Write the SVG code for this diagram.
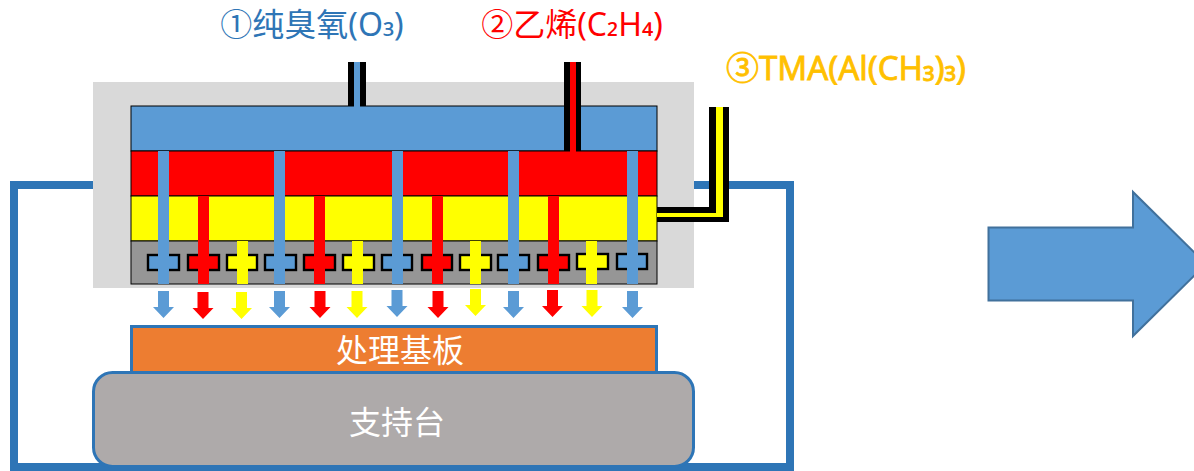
<svg xmlns="http://www.w3.org/2000/svg" width="1194" height="471" viewBox="0 0 1194 471">
<style>
text{font-family:"Noto Sans","Noto Sans CJK SC","Noto Sans CJK JP",sans-serif;font-size:32px;text-anchor:middle}
.layer{stroke:#000;stroke-width:1}
.b{fill:#5b9bd5}.r{fill:#f00}.y{fill:#ff0}
.cell{fill:none;stroke:#000;stroke-width:2.4}
.white{fill:#fff}
</style>
<defs>
<path id="arr" d="M-5.500,0H5.500V16H10.500L0,27L-10.500,16H-5.500Z"/>
</defs>
<rect width="1194" height="471" fill="#fff"/>
<g id="chamber"><rect x="14" y="185" width="776" height="282" fill="none" stroke="#2e75b6" stroke-width="8"/></g>
<g id="head">
<rect x="93" y="82" width="601" height="206" fill="#d9d9d9"/>
<rect class="layer b" x="131" y="106" width="526" height="45"/>
<rect class="layer r" x="131" y="151" width="526" height="45"/>
<rect class="layer y" x="131" y="196" width="526" height="45"/>
<rect class="layer" fill="#969696" x="131" y="241" width="526" height="43"/>
</g>
<g id="cells">
<g class="b"><rect x="148" y="255" width="31" height="15"/><rect x="265" y="255" width="31" height="15"/><rect x="382" y="255" width="30" height="15"/><rect x="498" y="255" width="31" height="15"/><rect x="617" y="254" width="30" height="15"/></g>
<g class="r"><rect x="188" y="255" width="31" height="15"/><rect x="304" y="255" width="31" height="15"/><rect x="422" y="255" width="30" height="15"/><rect x="538" y="255" width="31" height="15"/></g>
<g class="y"><rect x="227" y="255" width="30" height="15"/><rect x="343" y="255" width="31" height="15"/><rect x="460" y="255" width="31" height="15"/><rect x="577" y="254" width="31" height="15"/></g>
<g class="cell"><rect x="148" y="255" width="31" height="15"/><rect x="188" y="255" width="31" height="15"/><rect x="227" y="255" width="30" height="15"/><rect x="265" y="255" width="31" height="15"/><rect x="304" y="255" width="31" height="15"/><rect x="343" y="255" width="31" height="15"/><rect x="382" y="255" width="30" height="15"/><rect x="422" y="255" width="30" height="15"/><rect x="460" y="255" width="31" height="15"/><rect x="498" y="255" width="31" height="15"/><rect x="538" y="255" width="31" height="15"/><rect x="577" y="254" width="31" height="15"/><rect x="617" y="254" width="30" height="15"/></g>
</g>
<g id="stems">
<g class="b"><rect x="158" y="151" width="11" height="133"/><rect x="274" y="151" width="11" height="133"/><rect x="392" y="151" width="11" height="133"/><rect x="508" y="151" width="11" height="133"/><rect x="627" y="151" width="11" height="133"/></g>
<g class="r"><rect x="198" y="196" width="11" height="88"/><rect x="314" y="196" width="11" height="88"/><rect x="432" y="196" width="11" height="88"/><rect x="548" y="196" width="11" height="88"/></g>
<g class="y"><rect x="237" y="241" width="11" height="43"/><rect x="352" y="241" width="11" height="43"/><rect x="470" y="241" width="11" height="43"/><rect x="586" y="241" width="11" height="43"/></g>
</g>
<g id="pipes">
<rect x="348" y="62" width="18" height="44"/><rect class="b" x="354" y="62" width="6" height="46"/>
<rect x="564" y="62" width="17" height="89"/><rect class="r" x="570" y="62" width="6" height="90"/>
<polygon points="709,107 729,107 729,222 657,222 657,207 709,207"/>
<polygon class="y" points="716,107 723,107 723,217 657,217 657,213 716,213"/>
</g>
<g id="arrows">
<g class="b"><use href="#arr" x="163.500" y="291"/><use href="#arr" x="279.500" y="291"/><use href="#arr" x="397" y="290"/><use href="#arr" x="513.500" y="291"/><use href="#arr" x="632.500" y="291"/></g>
<g class="r"><use href="#arr" x="203" y="292"/><use href="#arr" x="320" y="291"/><use href="#arr" x="438" y="291"/><use href="#arr" x="552.500" y="290"/></g>
<g class="y"><use href="#arr" x="241.500" y="292"/><use href="#arr" x="357" y="291"/><use href="#arr" x="475.500" y="289"/><use href="#arr" x="592" y="290"/></g>
</g>
<g id="substrate"><rect x="131.500" y="326.500" width="525" height="46" fill="#ed7d31" stroke="#2e75b6" stroke-width="3"/><text class="white" x="400" y="362">处理基板</text></g>
<g id="support"><rect x="93.500" y="372.500" width="600" height="94" rx="19" fill="#aeaaaa" stroke="#2e75b6" stroke-width="3"/><text class="white" x="397" y="434">支持台</text></g>
<g id="big-arrow"><polygon points="988.500,227.500 1133,227.500 1133,192 1206,264 1133,336 1133,300.500 988.500,300.500" fill="#5b9bd5" stroke="#41719c" stroke-width="2"/></g>
<g id="labels">
<text id="label-o3" x="312" y="36" fill="#2e75b6">①纯臭氧(O<tspan dy="-4">₃</tspan><tspan dy="4">)</tspan></text>
<text id="label-c2h4" x="572" y="36" fill="#f00">②乙烯(C<tspan dy="-4">₂</tspan><tspan dy="4">H</tspan><tspan dy="-4">₄</tspan><tspan dy="4">)</tspan></text>
<text id="label-tma" x="846" y="80" fill="#ffc000" stroke="#ffc000" stroke-width=".8" style="font-size:33px">③TMA(Al(CH<tspan dy="-4">₃</tspan><tspan dy="4">)</tspan><tspan dy="-4">₃</tspan><tspan dy="4">)</tspan></text>
</g>
</svg>
